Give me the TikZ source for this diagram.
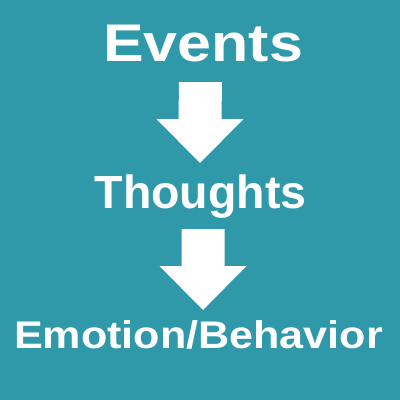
\documentclass[tikz,border=0pt]{standalone}
\usepackage{fontspec}
\setmainfont{Liberation Sans}
\usetikzlibrary{calc}
\definecolor{tealbg}{HTML}{2F99AA}

\begin{document}
\begin{tikzpicture}[x=1pt, y=-1pt,
  word/.style={text=white, anchor=base, inner sep=0pt},
  blockarrow/.style={fill=white, draw=none}
]
  % Background
  \fill[tealbg] (0,0) rectangle (400,400);
  \useasboundingbox (0,0) rectangle (400,400);

  % Labels
  \node[word, font=\fontsize{53}{60}\selectfont\bfseries, xscale=1.15] (events) at (203,61) {Events};
  \node[word, font=\fontsize{46.5}{54}\selectfont\bfseries] (thoughts) at (200.5,208) {Thoughts};
  \node[word, font=\fontsize{38.5}{45}\selectfont\bfseries, xscale=1.12] (emotion) at (198.5,348) {Emotion/Behavior};

  % Arrow ends
  \coordinate (a1top) at (200.5,82);
  \coordinate (a1tip) at (200,163);
  \coordinate (a2top) at (203,229);
  \coordinate (a2tip) at (203,310);

  % Block arrows
  \foreach \top/\tip in {a1top/a1tip, a2top/a2tip} {
    \fill[blockarrow] ($(\top)+(-21.5,0)$) -- ($(\top)+(21.5,0)$)
      -- ($(\tip)+(21.5,-44)$) -- ($(\tip)+(43.5,-44)$) -- (\tip)
      -- ($(\tip)+(-43.5,-44)$) -- ($(\tip)+(-21.5,-44)$) -- cycle;
  }
\end{tikzpicture}
\end{document}
